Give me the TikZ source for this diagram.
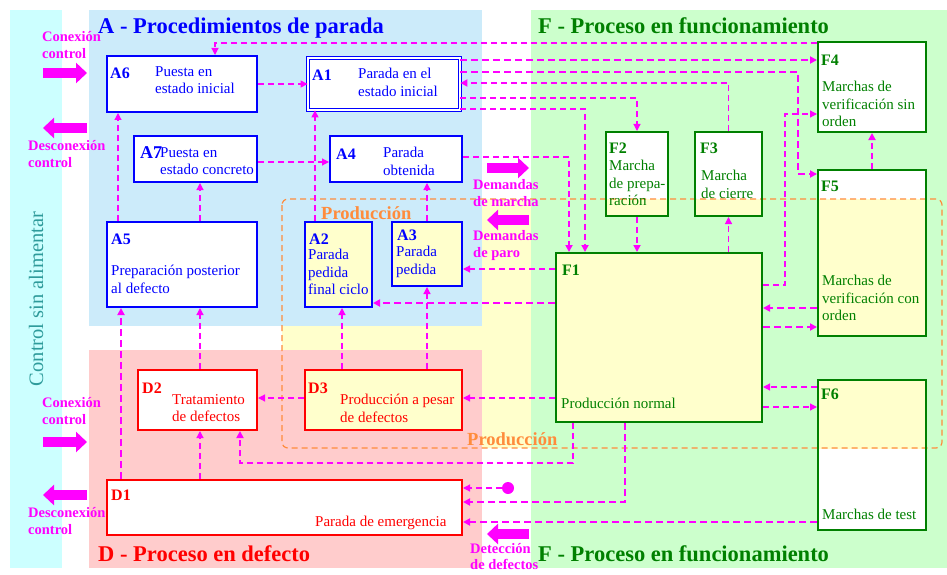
\documentclass[tikz,border=0pt]{standalone}
\usepackage{fontspec}
\setmainfont{Liberation Serif}
\usepackage{tikz}
\usetikzlibrary{arrows.meta}
\usetikzlibrary{backgrounds}
\definecolor{azul}{RGB}{0,0,255}
\definecolor{rojo}{RGB}{255,0,0}
\definecolor{verde}{RGB}{0,128,0}
\definecolor{fucsia}{RGB}{255,0,255}
\definecolor{naranja}{RGB}{255,140,60}
\definecolor{turquesa}{RGB}{46,155,155}
\definecolor{cian}{RGB}{204,255,255}
\definecolor{celeste}{RGB}{204,235,250}
\definecolor{rosado}{RGB}{255,204,204}
\definecolor{verdeclaro}{RGB}{204,255,204}
\definecolor{amarillo}{RGB}{255,255,204}
\tikzset{
  cajaA/.style={draw=azul, line width=2pt, inner sep=0pt},
  cajaD/.style={draw=rojo, line width=2pt, inner sep=0pt},
  cajaF/.style={draw=verde, line width=2pt, inner sep=0pt},
  texto/.style={font=\fontsize{15}{17.5}\selectfont, align=left, anchor=north west, inner sep=0pt},
  etiqueta/.style={font=\fontsize{16}{18}\selectfont\bfseries, anchor=north west, inner sep=0pt},
  titulo/.style={font=\fontsize{22.5}{26}\selectfont\bfseries, anchor=base west, inner sep=0pt},
  aviso/.style={text=fucsia, font=\fontsize{14.5}{17.5}\selectfont\bfseries, align=left, anchor=north west, inner sep=0pt},
  enlace/.style={draw=fucsia, dash pattern=on 6pt off 4pt, line width=1.2pt, -{Triangle[length=7pt,width=7pt]}},
  medio/.style={line width=1.7pt},
  grueso/.style={line width=2.2pt, dash pattern=on 7pt off 4pt},
  bloque/.style={draw=fucsia, line width=10pt, -{Triangle[length=11pt,width=20pt]}},
}

\begin{document}
\begin{tikzpicture}[x=1pt,y=-1pt]
\useasboundingbox (0,0) rectangle (947,575);

\node[cajaA, minimum width=150pt, minimum height=56pt] (A6) at (182,84) {};
\node[cajaA, double=white, double distance=2pt, line width=1.2pt, minimum width=151.6pt, minimum height=51.6pt] (A1) at (384,84) {};
\node[cajaA, minimum width=123pt, minimum height=46pt] (A7) at (195.5,159) {};
\node[cajaA, minimum width=132pt, minimum height=46pt] (A4) at (396,159) {};
\node[cajaA, minimum width=150pt, minimum height=85pt] (A5) at (182,264.5) {};
\node[cajaA, minimum width=67pt, minimum height=85pt] (A2) at (338.5,264.5) {};
\node[cajaA, minimum width=70pt, minimum height=64pt] (A3) at (427,254) {};

\node[cajaD, minimum width=119pt, minimum height=60pt] (D2) at (197.5,400) {};
\node[cajaD, minimum width=157pt, minimum height=60pt] (D3) at (383.5,400) {};
\node[cajaD, minimum width=355pt, minimum height=55pt] (D1) at (284.5,507.5) {};

\node[cajaF, minimum width=108pt, minimum height=90pt] (F4) at (872,87) {};
\node[cajaF, minimum width=62pt, minimum height=84pt] (F2) at (637,174) {};
\node[cajaF, minimum width=67pt, minimum height=84pt] (F3) at (728.5,174) {};
\node[cajaF, minimum width=108pt, minimum height=166pt] (F5) at (872,253) {};
\node[cajaF, minimum width=206pt, minimum height=169pt] (F1) at (659,337.5) {};
\node[cajaF, minimum width=108pt, minimum height=150pt] (F6) at (872,455) {};

\begin{scope}[on background layer]
  \fill[amarillo] (282,199) rectangle (942,448);
  \fill[cian] (10,10) rectangle (62,568);
  \fill[celeste] (89,10) rectangle (482,326);
  \fill[rosado] (89,350) rectangle (482,568);
  \fill[verdeclaro] (531,10) rectangle (947,568);
  \foreach \c in {A6,A1,A7,A4,A5,A2,A3,D2,D3,D1,F4,F2,F3,F5,F1,F6}
    \fill[white] (\c.south west) rectangle (\c.north east);
  \begin{scope}
    \clip (282,199) rectangle (942,448);
    \foreach \c in {A2,A3,D3,F2,F3,F5,F1,F6}
      \fill[amarillo] (\c.south west) rectangle (\c.north east);
  \end{scope}
  \draw[naranja, line width=1.2pt, dash pattern=on 6pt off 4pt, rounded corners=6pt] (282,199) rectangle (942,448);
\end{scope}

\node[titulo, text=azul] (tA) at (98,33.5) {A - Procedimientos de parada};
\node[titulo, text=verde] (tF) at (538,33.5) {F - Proceso en funcionamiento};
\node[titulo, text=rojo] (tD) at (98,561) {D - Proceso en defecto};
\node[titulo, text=verde] (tF2) at (538,561) {F - Proceso en funcionamiento};
\node[text=turquesa, font=\fontsize{20.5}{24}\selectfont, rotate=90] (csa) at (36,299) {Control sin alimentar};
\node[text=naranja, font=\fontsize{18.5}{22}\selectfont\bfseries, anchor=base west, inner sep=0pt] (prod1) at (321,219) {Producción};
\node[text=naranja, font=\fontsize{18.5}{22}\selectfont\bfseries, anchor=base west, inner sep=0pt] (prod2) at (467,445) {Producción};

\node[etiqueta, text=azul] (A6e) at (110,67.5) {A6};
\node[texto, text=azul] (A6t) at (155,66) {Puesta en\\estado inicial};
\node[etiqueta, text=azul] (A1e) at (312,69.5) {A1};
\node[texto, text=azul] (A1t) at (358,68) {Parada en el\\estado inicial};
\node[etiqueta, text=azul, font=\fontsize{18}{20}\selectfont\bfseries] (A7e) at (140,146.5) {A7};
\node[texto, text=azul] (A7t) at (160,147) {Puesta en\\estado concreto};
\node[etiqueta, text=azul] (A4e) at (336,148.5) {A4};
\node[texto, text=azul] (A4t) at (383,147) {Parada\\obtenida};
\node[etiqueta, text=azul] (A5e) at (111,233.5) {A5};
\node[texto, text=azul] (A5t) at (111,265) {Preparación posterior\\al defecto};
\node[etiqueta, text=azul] (A2e) at (309,233.5) {A2};
\node[texto, text=azul] (A2t) at (308,249) {Parada\\pedida\\final ciclo};
\node[etiqueta, text=azul] (A3e) at (397,230) {A3};
\node[texto, text=azul] (A3t) at (396,246) {Parada\\pedida};

\node[etiqueta, text=rojo] (D2e) at (142,382.5) {D2};
\node[texto, text=rojo] (D2t) at (172,394) {Tratamiento\\de defectos};
\node[etiqueta, text=rojo] (D3e) at (308,382.5) {D3};
\node[texto, text=rojo] (D3t) at (340,394) {Producción a pesar\\de defectos};
\node[etiqueta, text=rojo] (D1e) at (111,490) {D1};
\node[texto, text=rojo] (D1t) at (315,516) {Parada de emergencia};

\node[etiqueta, text=verde] (F4e) at (821,54.5) {F4};
\node[texto, text=verde] (F4t) at (822,81) {Marchas de\\verificación sin\\orden};
\node[etiqueta, text=verde] (F2e) at (609,142.5) {F2};
\node[texto, text=verde] (F2t) at (609,160) {Marcha\\de prepa-\\ración};
\node[etiqueta, text=verde] (F3e) at (700,142.5) {F3};
\node[texto, text=verde] (F3t) at (701,170) {Marcha\\de cierre};
\node[etiqueta, text=verde] (F5e) at (821,180.5) {F5};
\node[texto, text=verde] (F5t) at (822,275) {Marchas de\\verificación con\\orden};
\node[etiqueta, text=verde] (F1e) at (562,264.5) {F1};
\node[texto, text=verde] (F1t) at (561,398) {Producción normal};
\node[etiqueta, text=verde] (F6e) at (821,388.5) {F6};
\node[texto, text=verde] (F6t) at (822,509) {Marchas de test};

\node[aviso] (con1) at (42,31) {Conexión\\control};
\node[aviso] (des1) at (28,140) {Desconexión\\control};
\node[aviso] (con2) at (42,397) {Conexión\\control};
\node[aviso] (des2) at (28,507) {Desconexión\\control};
\node[aviso] (dmar) at (473,179) {Demandas\\de marcha};
\node[aviso] (dpar) at (473,230) {Demandas\\de paro};
\node[aviso, font=\fontsize{14.5}{16}\selectfont\bfseries] (ddef) at (470,543) {Detección\\de defectos};

\draw[bloque] (43,73) -- (87,73);
\draw[bloque] (87,128) -- (43,128);
\draw[bloque] (43,442) -- (87,442);
\draw[bloque] (87,495) -- (43,495);
\draw[bloque] (487,168) -- (529,168);
\draw[bloque] (529,220) -- (487,220);
\draw[bloque] (529,534) -- (487,534);

\draw[enlace] (F4.west |- 0,43) -| (215,0 |- A6.north);
\draw[enlace] (A6.east) -- (A1.west);
\draw[enlace, grueso] (A1.east |- 0,60) -- (F4.west |- 0,60);
\draw[enlace, grueso] (A1.east |- 0,72) -| (798,174) -- (F5.west |- 0,174);
\draw[enlace, medio] (F3.north) |- (A1.east |- 0,83);
\draw[enlace] (A1.east |- 0,98) -| (F2.north);
\draw[enlace, medio] (A1.east |- 0,109) -| (585,0 |- F1.north);
\draw[enlace, medio] (A4.east |- 0,157) -| (569,0 |- F1.north);
\draw[enlace, medio] (F2.south) -- (F2.south |- F1.north);
\draw[enlace] (F3.south |- F1.north) -- (F3.south);
\draw[enlace, medio] (F5.north) -- (F4.south);
\draw[enlace] (F1.east |- 0,285) -| (785,114) -- (F4.west |- 0,114);
\draw[enlace, grueso] (F5.west |- 0,308) -- (F1.east |- 0,308);
\draw[enlace, grueso] (F1.east |- 0,327) -- (F5.west |- 0,327);
\draw[enlace] (F6.west |- 0,387) -- (F1.east |- 0,387);
\draw[enlace] (F1.east |- 0,407) -- (F6.west |- 0,407);
\draw[enlace] (F1.west |- 0,269) -- (A3.east |- 0,269);
\draw[enlace, grueso] (F1.west |- 0,303) -- (A2.east |- 0,303);
\draw[enlace] (A3.north) -- (A3.north |- A4.south);
\draw[enlace] (315,0 |- A2.north) -- (315,0 |- A1.south);
\draw[enlace] (A7.east |- 0,162) -- (A4.west |- 0,162);
\draw[enlace] (118,0 |- A5.north) -- (118,0 |- A6.south);
\draw[enlace] (200,0 |- A5.north) -- (200,0 |- A7.south);
\draw[enlace, grueso] (121,0 |- D1.north) -- (121,0 |- A5.south);
\draw[enlace] (200,0 |- D2.north) -- (200,0 |- A5.south);
\draw[enlace] (342,0 |- D3.north) -- (342,0 |- A2.south);
\draw[enlace] (427,0 |- D3.north) -- (427,0 |- A3.south);
\draw[enlace] (D3.west |- 0,398) -- (D2.east |- 0,398);
\draw[enlace] (F1.west |- 0,398) -- (D3.east |- 0,398);
\draw[enlace, medio] (573,0 |- F1.south) |- (240,463) -- (240,0 |- D2.south);
\draw[enlace] (200,0 |- D1.north) -- (200,0 |- D2.south);

\coordinate (falla) at (508,488);
\fill[fucsia] (falla) circle (6pt);
\draw[enlace] ([xshift=-6pt]falla) -- (D1.east |- falla);
\draw[enlace, grueso] (625,0 |- F1.south) |- (D1.east |- 0,502);
\draw[enlace, grueso] (F6.west |- 0,522) -- (D1.east |- 0,522);
\end{tikzpicture}
\end{document}
